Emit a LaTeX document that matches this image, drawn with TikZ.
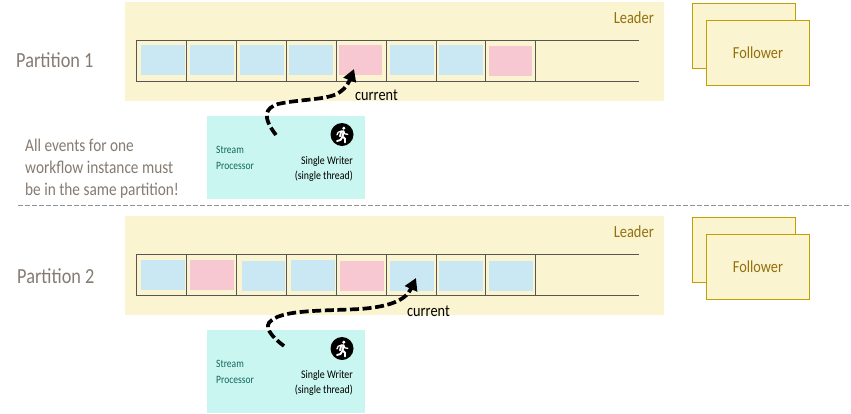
\documentclass[tikz,border=0pt]{standalone}
\usepackage{fontspec}
\setmainfont[FakeStretch=0.85]{Carlito}
\usetikzlibrary{arrows.meta}
\definecolor{panel}{HTML}{FBF4D0}
\definecolor{evblue}{HTML}{CAE8F3}
\definecolor{evpink}{HTML}{F8C8D2}
\definecolor{proc}{HTML}{C9F6F0}
\definecolor{gold}{HTML}{C0A000}
\definecolor{goldtext}{HTML}{94700F}
\definecolor{greytext}{HTML}{857B72}
\definecolor{rowlinec}{HTML}{595550}
\definecolor{tealtext}{HTML}{14665E}
\tikzset{
  x=1pt,y=-1pt,
  followerbox/.style={fill=panel,draw=gold,line width=0.75pt},
  rowln/.style={draw=rowlinec,line width=0.7pt},
  flow/.style={draw=black,line width=3.7pt,dash pattern=on 9pt off 3.6pt,-{Triangle[length=12pt,width=13pt]}},
  parttext/.style={text=greytext,font=\fontsize{21.5}{24}\selectfont,anchor=west,inner sep=0},
  leadertext/.style={text=goldtext,font=\fontsize{17}{19}\selectfont,anchor=east,inner sep=0},
  followertext/.style={text=goldtext,font=\fontsize{16.8}{19}\selectfont,inner sep=0},
  notetext/.style={text=greytext,font=\fontsize{18}{22.3}\selectfont,align=left,anchor=north west,inner sep=0},
  streamtext/.style={text=tealtext,font=\fontsize{11.2}{16}\selectfont,align=left,anchor=west,inner sep=0},
  writertext/.style={text=black,font=\fontsize{11.6}{15.5}\selectfont,align=right,anchor=east,inner sep=0},
  currenttext/.style={text=black,font=\fontsize{16.8}{19}\selectfont,anchor=west,inner sep=0},
}
\newcommand{\runner}[2]{%
  \begin{scope}[shift={(#1,#2)}]
    \fill[black] (0,0) circle (11.5);
    \fill[white] (1.8,-6.3) circle (1.7);
    \draw[white,line width=1.9pt,line cap=round,line join=round]
      (-2,1.8) -- (-0.8,-3.2) -- (1.6,-3.2) -- (0.6,2) -- (3,4.2) -- (3,8);
    \draw[white,line width=1.9pt,line cap=round,line join=round]
      (0.6,2) -- (-1.5,5.5) -- (-5,6.5);
    \draw[white,line width=1.3pt,line cap=round,line join=round]
      (-0.8,-3.2) -- (-3.8,-2.3) -- (-5,0.4);
    \draw[white,line width=1.3pt,line cap=round,line join=round]
      (1.6,-3.2) -- (3,-0.6) -- (5.8,-0.2);
  \end{scope}}
\begin{document}
\begin{tikzpicture}
\useasboundingbox (0,0) rectangle (851,413);
\fill[white] (0,0) rectangle (851,413);

% ===== Partition 1 =====
\fill[panel] (125,2) rectangle (664,101);
\foreach \a/\b/\c in {141/185/evblue,190/234/evblue,240/284/evblue,289/333/evblue,339/382/evpink,390/434/evblue,439/483/evblue}
  \fill[\c] (\a,45) rectangle (\b,75);
\fill[evpink] (489,46) rectangle (532,76);
\draw[rowln] (639,40.5) -- (136.5,40.5) -- (136.5,81.5) -- (639,81.5);
\foreach \x in {186.5,236.5,286.5,336.5,386.5,436.5,485.5,535.5}
  \draw[rowln] (\x,40.5) -- (\x,81.5);
\node[leadertext] (leader1) at (654,18) {Leader};
\node[parttext] (part1) at (16,60) {Partition 1};
\draw[followerbox] (692.5,3.5) rectangle (795.5,68.5);
\draw[followerbox] (706.5,20.5) rectangle (809.5,85.5);
\node[followertext] (fol1) at (758,52.5) {Follower};
\fill[proc] (207,116) rectangle (365,199);
\node[streamtext] (sp1) at (216,157.5) {Stream\\Processor};
\runner{342}{134.5}
\node[writertext] (sw1) at (353,169) {Single Writer\\(single thread)};
\coordinate (from1) at (276,135);
\coordinate (to1) at (354,69);
\draw[flow] (from1) .. controls (262,117) and (265,108) .. (278,104)
  .. controls (300,99) and (330,100) .. (340,92) .. controls (346,88) and (349,82) .. (to1);
\node[currenttext] (cur1) at (355,95) {current};

% ===== divider =====
\coordinate (d1) at (18,205.5);
\coordinate (d2) at (850,205.5);
\draw[draw=gray!85,line width=0.7pt,dash pattern=on 4.5pt off 2.5pt] (d1) -- (d2);
\node[notetext] (note) at (25,138.5) {All events for one\\workflow instance must\\be in the same partition!};

% ===== Partition 2 =====
\fill[panel] (125,216) rectangle (664,315);
\fill[evblue] (141,260) rectangle (185,290);
\fill[evpink] (190,260) rectangle (234,290);
\fill[evblue] (242,261) rectangle (285,291);
\fill[evblue] (291,260) rectangle (335,291);
\fill[evpink] (340,261) rectangle (384,291);
\fill[evblue] (390,261) rectangle (434,291);
\fill[evblue] (439,261) rectangle (483,291);
\fill[evblue] (489,261) rectangle (533,291);
\draw[rowln] (639,254.5) -- (136.5,254.5) -- (136.5,295.5) -- (639,295.5);
\foreach \x in {186.5,236.5,286.5,336.5,386.5,436.5,485.5,535.5}
  \draw[rowln] (\x,254.5) -- (\x,295.5);
\node[leadertext] (leader2) at (654,232) {Leader};
\node[parttext] (part2) at (17,276) {Partition 2};
\draw[followerbox] (692.5,217.5) rectangle (795.5,282.5);
\draw[followerbox] (706.5,234.5) rectangle (809.5,299.5);
\node[followertext] (fol2) at (758,266.5) {Follower};
\fill[proc] (207,330) rectangle (365,413);
\node[streamtext] (sp2) at (216,371.5) {Stream\\Processor};
\runner{342}{348.5}
\node[writertext] (sw2) at (353,383) {Single Writer\\(single thread)};
\coordinate (from2) at (284,346);
\coordinate (to2) at (416,278);
\draw[flow] (from2) .. controls (272,337) and (262,326) .. (272,320)
  .. controls (285,310) and (320,311) .. (360,309) .. controls (385,307) and (405,302) .. (to2);
\node[currenttext] (cur2) at (407,311) {current};
\end{tikzpicture}
\end{document}
